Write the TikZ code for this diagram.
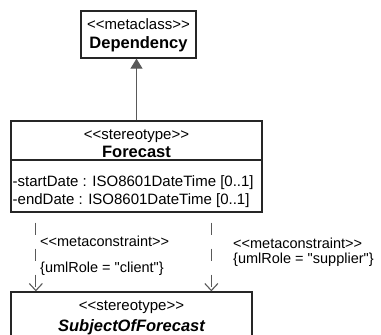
\documentclass[tikz,border=0pt]{standalone}
\usepackage{fontspec}
\setmainfont{Liberation Sans}[Ligatures=TeXOff]
\usetikzlibrary{arrows.meta,positioning,calc}

\newcommand{\stereo}[1]{<\kern0pt<#1>\kern0pt>}

\begin{document}
\begin{tikzpicture}[x=1pt,y=-1pt,
    classbox/.style={draw=black!85, line width=1.3pt, inner sep=0pt},
    txt/.style={inner sep=0pt, anchor=base, font=\fontsize{15}{17}\selectfont},
    bold/.style={inner sep=0pt, anchor=base, font=\fontsize{16.5}{19}\selectfont\bfseries},
    attr/.style={inner sep=0pt, anchor=base west, font=\fontsize{15}{17}\selectfont},
    lbl/.style={inner sep=0pt, anchor=base west, font=\fontsize{14.5}{16}\selectfont},
    gen/.style={draw=black!65, line width=1.1pt, -{Triangle[length=10pt,width=12pt]}},
    dep/.style={draw=black!65, line width=1.1pt, dash pattern=on 12pt off 14pt, dash phase=16pt,
        -{Straight Barb[length=7pt,width=13pt]}}]
    \useasboundingbox (0,0) rectangle (381,335);
    \clip (0,0) rectangle (381,335);

    % Metaclass
    \node[classbox, minimum width=115pt, minimum height=47pt] (dep) at (138.5,34.5) {};
    \node[txt] (depst) at (138.5,29) {\stereo{metaclass}};
    \node[bold] (depname) at (138.5,48.7) {Dependency};

    % Stereotype with attributes
    \node[classbox, minimum width=251pt, minimum height=91pt] (fc) at (136.5,166.5) {};
    \draw[black!85, line width=1.3pt] (fc.west |- 0,160) -- (fc.east |- 0,160);
    \node[txt] (fcst) at (136.5,139) {\stereo{stereotype}};
    \node[bold] (fcname) at (136.5,157.5) {Forecast};
    \node[attr] (start) at (12.5,186) {-startDate : ISO8601DateTime [0..1]};
    \node[attr] (end) at (12.5,204) {-endDate : ISO8601DateTime [0..1]};

    % Subject (cut off at the bottom)
    \node[classbox, minimum width=241pt, minimum height=80pt] (subj) at (131.5,332) {};
    \node[txt] (subjst) at (131.5,310) {\stereo{stereotype}};
    \node[bold] (subjname) at (131.5,331) {\itshape SubjectOfForecast};

    % Generalization
    \draw[gen] (fc.north) -- (fc.north |- dep.south);

    % Metaconstraints
    \draw[dep] ([xshift=25.5pt]fc.south west) -- ([xshift=25.5pt]subj.north west);
    \draw[dep] ([xshift=201pt]fc.south west) -- ([xshift=201pt]subj.north west);
    \node[lbl] (clientst) at (40,246) {\stereo{metaconstraint}};
    \node[lbl] (client) at (40,272) {\{umlRole = "client"\}};
    \node[lbl] (supst) at (233,248) {\stereo{metaconstraint}};
    \node[lbl] (sup) at (233,263) {\{umlRole = "supplier"\}};
\end{tikzpicture}
\end{document}
